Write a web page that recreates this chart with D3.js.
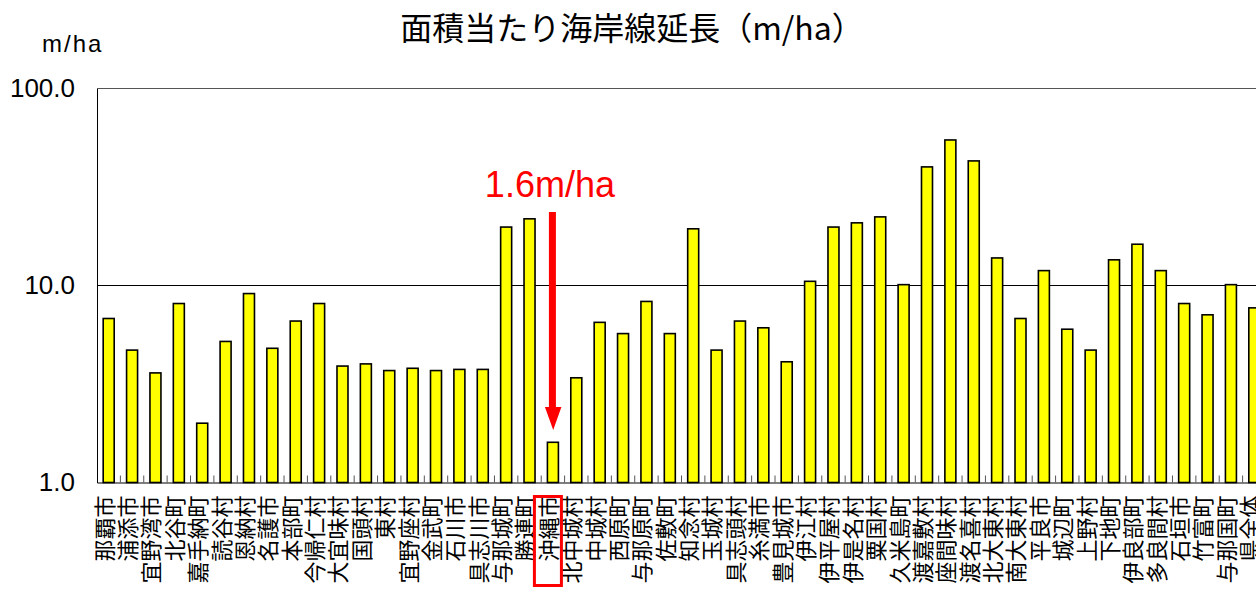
<!DOCTYPE html>
<html>
<head>
<meta charset="utf-8">
<script src="https://cdn.jsdelivr.net/npm/d3@7"></script>
<style>
  body { margin: 0; background: #fff; }
  svg { display: block; }
</style>
</head>
<body>
<script>
// municipalities (in chart order)
var towns = ["那覇市", "浦添市", "宜野湾市", "北谷町", "嘉手納町", "読谷村", "恩納村", "名護市", "本部町", "今帰仁村",
  "大宜味村", "国頭村", "東村", "宜野座村", "金武町", "石川市", "具志川市", "与那城町", "勝連町", "沖縄市",
  "北中城村", "中城村", "西原町", "与那原町", "佐敷町", "知念村", "玉城村", "具志頭村", "糸満市", "豊見城市",
  "伊江村", "伊平屋村", "伊是名村", "粟国村", "久米島町", "渡嘉敷村", "座間味村", "渡名喜村", "北大東村", "南大東村",
  "平良市", "城辺町", "上野村", "下地町", "伊良部町", "多良間村", "石垣市", "竹富町", "与那国町", "県全体"];
// coastline length per area (m/ha)
var values = [6.8, 4.7, 3.6, 8.1, 2.0, 5.2, 9.1, 4.8, 6.6, 8.1,
  3.9, 4.0, 3.7, 3.8, 3.7, 3.75, 3.75, 19.8, 21.8, 1.6,
  3.4, 6.5, 5.7, 8.3, 5.7, 19.4, 4.7, 6.6, 6.1, 4.1,
  10.5, 19.8, 20.8, 22.3, 10.1, 40.0, 54.8, 42.9, 13.8, 6.8,
  11.9, 6.0, 4.7, 13.5, 16.2, 11.9, 8.1, 7.1, 10.1, 7.7];
var yTicks = [1, 10, 100];
var highlight = "沖縄市";
var highlightText = "1.6m/ha";

var widthScr = 1256;
var heightScr = 601;
var plotLeft = 97, plotTop = 88.5, plotBottom = 482.5;
var band = 23.38;
var plotRight = plotLeft + band * towns.length;

var svg = d3.select("body").append("svg")
  .attr("width", widthScr)
  .attr("height", heightScr);

var x = d3.scaleBand().domain(towns).range([plotLeft, plotRight]).paddingInner(0).paddingOuter(0);
var y = d3.scaleLog().domain([1, 100]).range([plotBottom, plotTop]);
var barW = 11;

//title
svg.append("text")
  .attr("x", 632).attr("y", 40)
  .attr("text-anchor", "middle")
  .attr("font-family", "'Noto Sans CJK JP', sans-serif")
  .attr("font-size", 32)
  .text("面積当たり海岸線延長（m/ha）");

svg.append("text")
  .attr("x", 42).attr("y", 52)
  .attr("font-family", "'Liberation Sans', Arial, sans-serif")
  .attr("font-size", 24)
  .attr("letter-spacing", 2)
  .text("m/ha");

//gridlines
svg.append("g").selectAll("line")
  .data(yTicks.slice(1))
  .join("line")
  .attr("x1", plotLeft).attr("x2", plotRight)
  .attr("y1", function(d) { return y(d); })
  .attr("y2", function(d) { return y(d); })
  .attr("stroke", function(d) { return d === 100 ? "#555" : "#000"; })
  .attr("stroke-width", 1);

//y axis
var yAxis = svg.append("g")
  .attr("transform", "translate(" + plotLeft + ",0)")
  .call(d3.axisLeft(y).tickValues(yTicks).tickFormat(d3.format(".1f")).tickSize(0).tickPadding(22));
yAxis.select(".domain").attr("stroke", "#000");
yAxis.selectAll("text")
  .attr("font-family", "'Liberation Sans', Arial, sans-serif")
  .attr("font-size", 26)
  .attr("fill", "#000");

//bars
svg.append("g").selectAll("rect")
  .data(values)
  .join("rect")
  .attr("x", function(d, i) { return x(towns[i]) + (band - barW) / 2; })
  .attr("y", function(d) { return y(d); })
  .attr("width", barW)
  .attr("height", function(d) { return plotBottom - y(d); })
  .attr("fill", "#ffff00")
  .attr("stroke", "#000")
  .attr("stroke-width", 1.6);

//x axis
var xAxis = svg.append("g")
  .attr("transform", "translate(0," + plotBottom + ")")
  .call(d3.axisBottom(x).tickSize(0).tickPadding(0));
xAxis.select(".domain").attr("stroke", "#000").attr("stroke-width", 1.2);
xAxis.selectAll("text")
  .attr("font-family", "'Noto Sans CJK JP', sans-serif")
  .attr("font-size", 22)
  .attr("fill", "#000")
  .attr("text-anchor", "end")
  .attr("transform", "translate(-4,13) rotate(-90)")
  .attr("dy", "0.36em")
  .attr("y", 0)
  .attr("x", 0);

//category ticks pointing up
svg.append("g").selectAll("line")
  .data(d3.range(1, towns.length))
  .join("line")
  .attr("x1", function(i) { return plotLeft + i * band; })
  .attr("x2", function(i) { return plotLeft + i * band; })
  .attr("y1", plotBottom)
  .attr("y2", plotBottom - 7)
  .attr("stroke", "#555")
  .attr("stroke-width", 1);

//highlight annotation
var hx = x(highlight) + band / 2;
svg.append("rect")
  .attr("x", hx - 18.5).attr("y", 496.5)
  .attr("width", 27).attr("height", 89)
  .attr("fill", "none")
  .attr("stroke", "#ff0000")
  .attr("stroke-width", 3);

svg.append("text")
  .attr("x", hx - 3).attr("y", 197)
  .attr("text-anchor", "middle")
  .attr("font-family", "'Liberation Sans', Arial, sans-serif")
  .attr("font-size", 36)
  .attr("fill", "#ff0000")
  .text(highlightText);

svg.append("rect")
  .attr("x", hx - 4).attr("y", 212)
  .attr("width", 7).attr("height", 196)
  .attr("fill", "#ff0000");
svg.append("path")
  .attr("d", "M" + (hx - 8) + ",407 L" + (hx + 8.5) + ",407 L" + (hx + 0.3) + ",430 Z")
  .attr("fill", "#ff0000");
</script>
</body>
</html>
